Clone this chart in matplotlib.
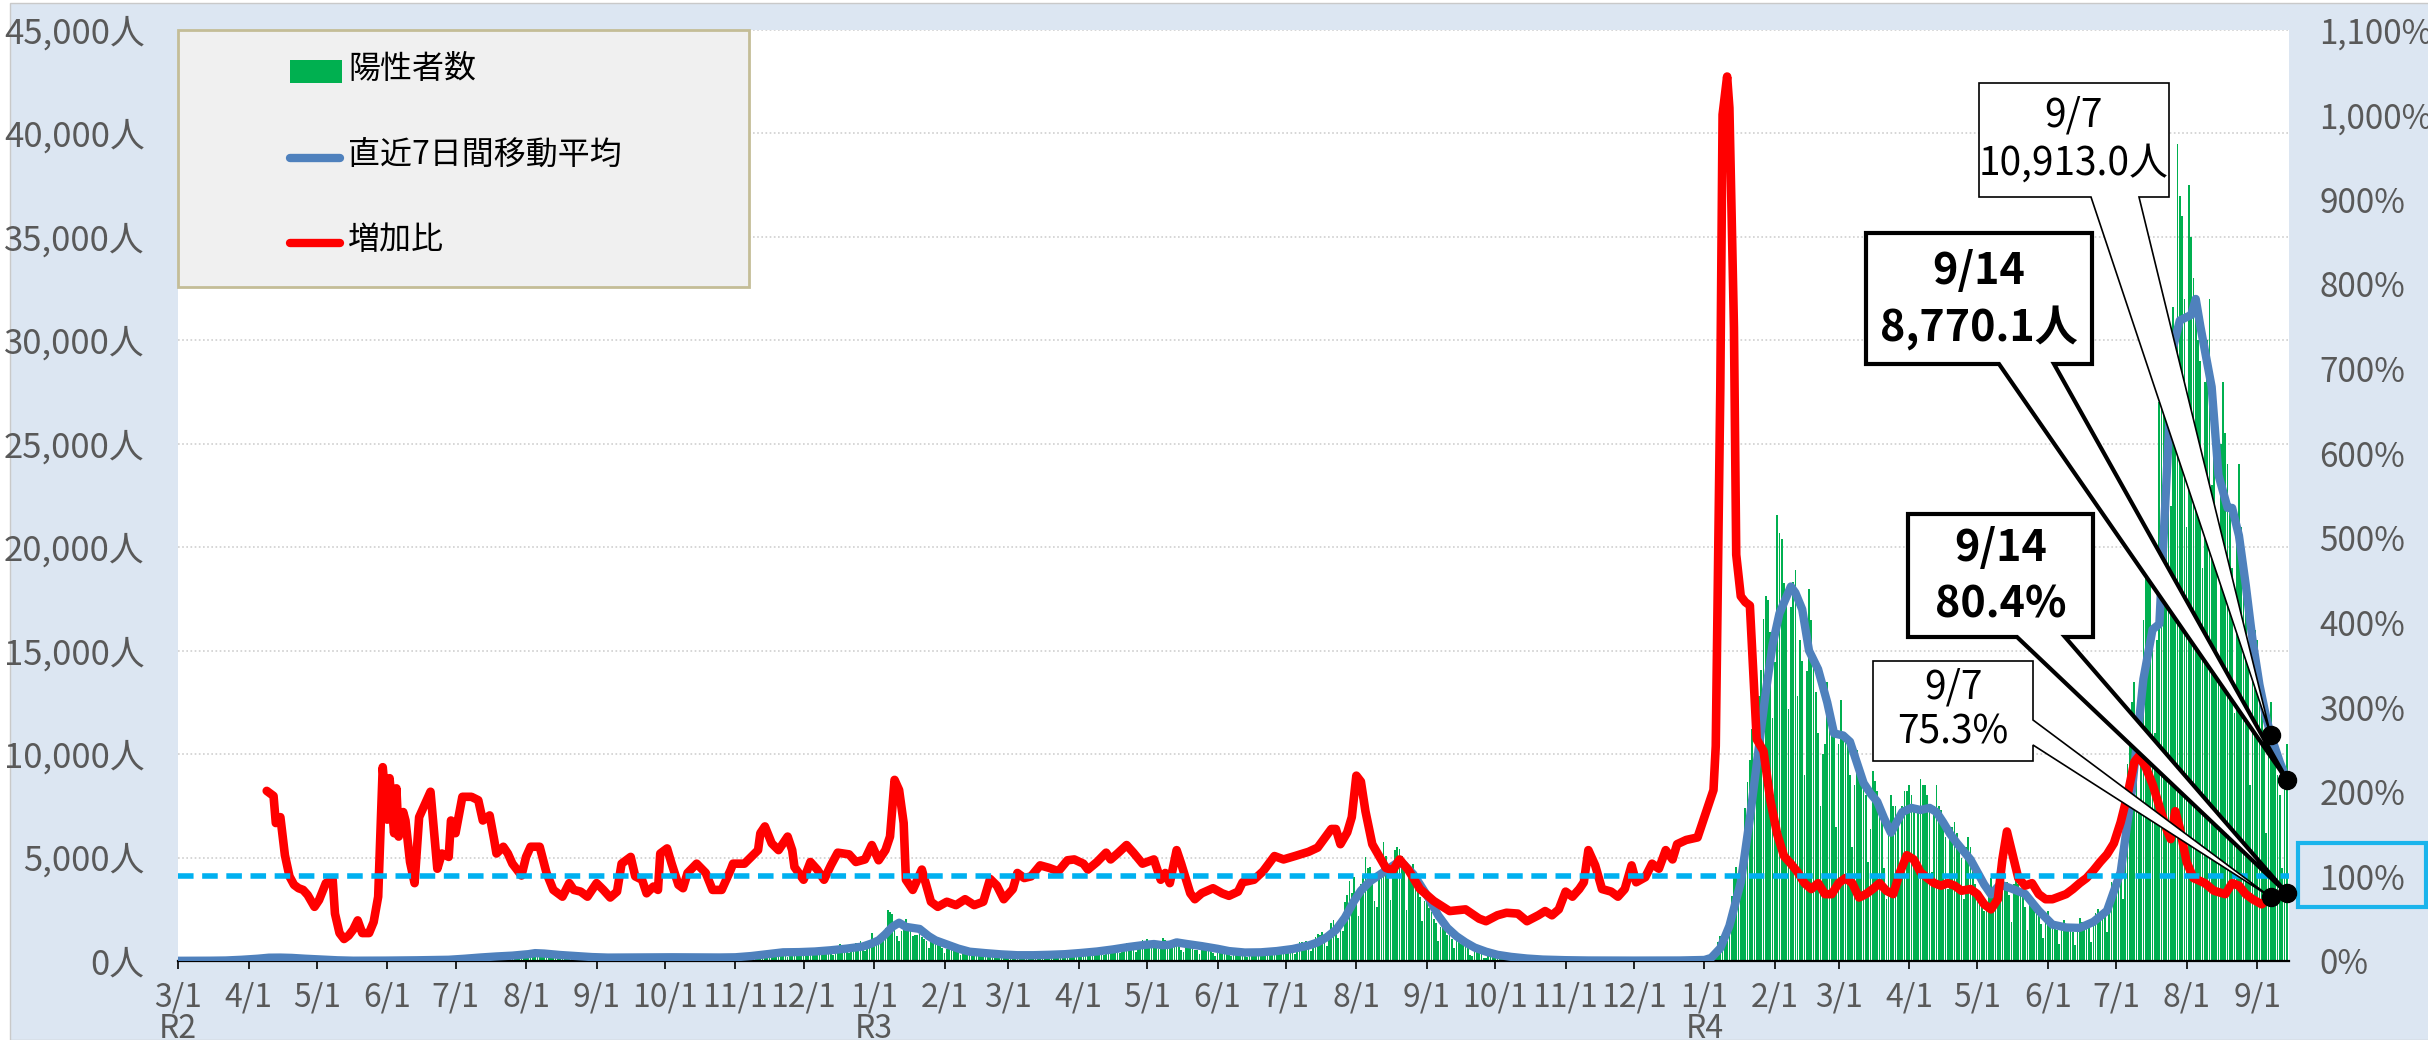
import matplotlib
matplotlib.use("Agg")
import matplotlib.pyplot as plt
import numpy as np
import pandas as pd
from matplotlib.patches import Polygon, Rectangle
from matplotlib.lines import Line2D
from matplotlib.transforms import IdentityTransform

plt.rcParams['font.family'] = ['Liberation Sans Narrow', 'Noto Sans CJK JP', 'DejaVu Sans']

START = pd.Timestamp('2020-03-01')

# daily positives, one row per week (Sun..Sat), first row starts 2020-03-01
cases_by_week = [
    [1, 0, 2, 3, 6, 4, 3], [2, 3, 4, 3, 1, 5, 2], [2, 3, 3, 2, 11, 5, 7],
    [16, 17, 16, 41, 47, 40, 63], [68, 13, 78, 66, 97, 89, 118],
    [143, 83, 80, 144, 178, 189, 197], [166, 91, 161, 127, 149, 206, 181],
    [107, 102, 123, 132, 134, 161, 103], [72, 39, 112, 47, 46, 165, 160],
    [91, 87, 58, 57, 23, 39, 36], [22, 15, 28, 10, 30, 9, 14], [5, 10, 5, 5, 3, 3, 2],
    [14, 8, 10, 11, 15, 22, 14], [5, 13, 34, 12, 28, 20, 26], [14, 13, 12, 18, 22, 25, 24],
    [47, 48, 27, 16, 41, 35, 39], [35, 29, 31, 55, 48, 54, 57], [60, 58, 54, 67, 107, 124, 131],
    [111, 102, 75, 224, 243, 206, 206], [206, 119, 143, 165, 286, 293, 290],
    [188, 168, 237, 238, 366, 260, 295], [239, 131, 266, 250, 367, 463, 472],
    [292, 258, 309, 263, 360, 462, 429], [331, 197, 188, 222, 206, 389, 385],
    [260, 161, 207, 186, 339, 258, 247], [212, 95, 182, 236, 250, 226, 148],
    [148, 100, 170, 141, 141, 211, 181], [148, 77, 170, 149, 276, 187, 181],
    [146, 78, 163, 191, 220, 218, 228], [162, 88, 98, 59, 195, 235, 270],
    [144, 78, 212, 194, 220, 196, 207], [143, 102, 177, 172, 186, 235, 180],
    [146, 78, 166, 177, 284, 185, 235], [132, 78, 139, 150, 185, 186, 203],
    [124, 102, 158, 171, 221, 215, 209], [116, 87, 209, 122, 242, 269, 294],
    [189, 157, 293, 317, 393, 374, 352], [255, 180, 298, 493, 534, 522, 539],
    [391, 314, 186, 401, 481, 570, 561], [418, 311, 372, 500, 533, 449, 584],
    [480, 299, 352, 572, 602, 595, 621], [480, 305, 460, 678, 822, 664, 736],
    [556, 392, 563, 748, 888, 884, 949], [708, 481, 856, 944, 1337, 783, 814],
    [816, 884, 1278, 1591, 2447, 2392, 2268], [1494, 1219, 970, 1433, 1502, 2044, 1809],
    [1592, 1204, 1240, 1274, 1471, 1175, 1070], [986, 618, 1026, 973, 1064, 868, 769],
    [633, 393, 556, 676, 734, 577, 639], [429, 276, 412, 434, 434, 307, 369],
    [371, 266, 378, 378, 445, 353, 327], [272, 178, 275, 213, 340, 270, 337],
    [329, 121, 232, 316, 279, 301, 293], [237, 116, 290, 340, 335, 304, 330],
    [239, 175, 300, 409, 323, 303, 342], [256, 187, 337, 420, 394, 376, 430],
    [313, 234, 364, 414, 475, 446, 440], [355, 249, 399, 555, 545, 537, 570],
    [421, 306, 510, 591, 729, 667, 759], [543, 405, 711, 843, 861, 759, 876],
    [635, 425, 828, 925, 1027, 698, 1050], [879, 708, 609, 621, 591, 907, 1121],
    [1032, 573, 925, 969, 1010, 854, 772], [542, 419, 732, 766, 843, 618, 539],
    [535, 340, 743, 597, 684, 614, 620], [380, 260, 471, 487, 508, 472, 436],
    [351, 235, 369, 440, 439, 435, 467], [304, 209, 337, 501, 452, 388, 388],
    [376, 236, 435, 619, 570, 562, 534], [386, 317, 476, 714, 673, 660, 716],
    [518, 342, 593, 920, 896, 822, 950], [614, 502, 830, 1149, 1308, 1271, 1410],
    [1008, 727, 1387, 1832, 1979, 1359, 1128], [1763, 1429, 2848, 3177, 3865, 3300, 4058],
    [3058, 2195, 3709, 4166, 5042, 4515, 4566], [4066, 2884, 2612, 4200, 4989, 5773, 5094],
    [4295, 2962, 4377, 5386, 5534, 5405, 5074], [4392, 2447, 4220, 4228, 4704, 3581, 3581],
    [3081, 1915, 2909, 3168, 2539, 2362, 2011], [1853, 968, 1629, 1834, 1675, 1242, 1273],
    [1067, 611, 1004, 1052, 831, 782, 862], [616, 302, 253, 537, 531, 382, 382],
    [154, 154, 248, 267, 218, 200, 196], [161, 87, 149, 144, 138, 82, 66],
    [60, 49, 77, 72, 62, 72, 66], [40, 29, 36, 41, 36, 26, 32], [19, 17, 29, 36, 21, 21, 23],
    [22, 9, 18, 29, 20, 17, 28], [21, 18, 19, 16, 25, 24, 26], [23, 6, 30, 24, 19, 26, 21],
    [13, 11, 24, 6, 23, 18, 26], [18, 9, 8, 16, 15, 20, 16], [15, 8, 11, 21, 20, 19, 25],
    [18, 8, 23, 28, 22, 26, 20], [16, 10, 34, 37, 41, 38, 51], [37, 31, 46, 76, 64, 78, 79],
    [84, 103, 151, 390, 641, 922, 1224], [1223, 871, 962, 2198, 3124, 4051, 4561],
    [4172, 3719, 5185, 7377, 8638, 9699, 11227], [9468, 8503, 12813, 14086, 16538, 17631, 17433],
    [15895, 11751, 14445, 21576, 20679, 20401, 18287], [17500, 12200, 17100, 18300, 18900, 12800, 15500],
    [14500, 9000, 14000, 18000, 16500, 14800, 13000], [11000, 7500, 10000, 10500, 13500, 12600, 11000],
    [11000, 6500, 10500, 12600, 11000, 10800, 10500], [9000, 5500, 8500, 10200, 9000, 9000, 8700],
    [8000, 4800, 6400, 9200, 8700, 8200, 7500], [7000, 4500, 3000, 6500, 8000, 7500, 7500],
    [7000, 4300, 7500, 8200, 8200, 8500, 8000], [7500, 4500, 7500, 8800, 8500, 8500, 8000],
    [7200, 4300, 7500, 8500, 7500, 7300, 6500], [6000, 3500, 6500, 6500, 6700, 6200, 5800],
    [5000, 3000, 5500, 6000, 5500, 5000, 3700], [3500, 3000, 2800, 2400, 2600, 3600, 4000],
    [3300, 2500, 4500, 5000, 4000, 3800, 3800], [3200, 1900, 3700, 4000, 3700, 3400, 3200],
    [2600, 1500, 3000, 3000, 2900, 2500, 2400], [1800, 1100, 2000, 2400, 2100, 1900, 1700],
    [1500, 800, 1800, 2000, 1800, 1700, 1600], [1400, 780, 1600, 2100, 1900, 1800, 1700],
    [1600, 900, 2000, 2300, 2500, 2300, 2400], [2300, 1400, 3000, 3800, 3500, 3600, 3600],
    [4000, 3000, 6500, 9500, 11000, 12500, 13500], [12000, 7500, 13500, 16500, 18500, 20000, 19000],
    [16000, 11000, 15500, 27000, 30000, 31000, 31500], [30000, 22000, 31600, 29000, 39500, 37000, 36000],
    [32000, 21000, 37500, 35000, 33000, 31500, 30000], [29000, 19000, 28000, 30000, 32000, 23000, 25000],
    [21000, 14000, 25000, 28000, 25500, 24000, 22000], [19000, 12000, 21500, 24000, 21000, 20000, 18000],
    [14500, 8500, 15000, 16000, 15500, 13500, 12500], [11000, 6200, 11500, 12500, 11000, 9500, 9000],
    [8000, 4500, 9000, 10500],
]

# 7-day moving average (day = days since 2020-03-01)
avg_day = [0, 7, 14, 21, 28, 35, 40, 45, 50, 56, 63, 70, 77, 84, 91, 98, 105, 112, 119, 126,
           133, 140, 147, 154, 157, 161, 168, 175, 182, 189, 196, 203, 210, 217, 224, 231, 238,
           245, 252, 259, 266, 273, 280, 287, 294, 301, 305, 308, 311, 314, 317, 320, 326, 330,
           333, 338, 343, 348, 355, 362, 369, 376, 383, 390, 397, 404, 411, 418, 425, 429, 433,
           436, 439, 443, 450, 457, 462, 469, 476, 483, 490, 497, 501, 505, 509, 513, 517, 520,
           524, 528, 532, 536, 539, 543, 546, 550, 554, 558, 562, 566, 570, 575, 580, 586, 593,
           600, 610, 620, 640, 660, 671, 674, 678, 682, 687, 691, 695, 698, 701, 704, 709, 711,
           714, 717, 721, 725, 728, 732, 735, 738, 741, 744, 747, 750, 753, 755, 758, 762, 766,
           770, 773, 776, 779, 782, 785, 788, 791, 794, 797, 801, 806, 812, 818, 824, 830, 836,
           842, 848, 854, 859, 864, 868, 871, 874, 877, 880, 885, 887, 889, 894, 897, 901, 903,
           906, 909, 912, 915, 918, 920, 924, 927]
avg_val = [10, 10, 15, 25, 60, 110, 160, 165, 150, 110, 75, 35, 15, 15, 20, 25, 35, 45, 60, 110,
           170, 220, 260, 330, 380, 360, 290, 240, 190, 165, 170, 180, 175, 180, 175, 170, 170,
           180, 240, 330, 420, 430, 460, 520, 600, 700, 850, 1000, 1300, 1650, 1850, 1650, 1550, 1200,
           1000, 800, 600, 450, 380, 320, 280, 280, 300, 330, 390, 460, 560, 680, 780, 820, 760,
           790, 900, 830, 720, 590, 480, 410, 420, 480, 580, 750, 900, 1150, 1500, 2100, 2900, 3400,
           3850, 4150, 4450, 4750, 4650, 4200, 3700, 3000, 2200, 1600, 1200, 900, 650, 450, 300, 200, 120,
           70, 40, 25, 20, 25, 50, 150, 620, 1700, 3800, 6900, 10400, 13000, 15300, 16800, 18100, 17800,
           17000, 15000, 14100, 12500, 11000, 10900, 10600, 9600, 8600, 8100, 7700, 6900, 6200, 6600, 7200, 7400, 7300,
           7400, 7200, 6700, 6150, 5700, 5300, 4900, 4300, 3700, 3220, 3700, 3500, 3240, 2430, 1760, 1620, 1600,
           1890, 2430, 4300, 8290, 13630, 16020, 16290, 22960, 29630, 30960, 31230, 32000, 30700, 27750, 23490, 21900, 21900,
           20560, 18170, 15490, 13360, 11760, 10913.0, 9600, 8770.1]

# week-on-week increase ratio (%)
ratio_day = [39, 42, 43, 45, 47, 49, 51, 53, 55, 57, 60, 62, 65, 68, 69, 71, 73, 75, 77, 79, 81, 84,
             86, 88, 90, 92, 93, 95, 96, 97, 99, 100, 102, 104, 106, 108, 111, 114, 116, 119, 120,
             122, 125, 129, 132, 134, 137, 139, 140, 143, 145, 147, 151, 153, 155, 159, 162, 165,
             169, 172, 174, 177, 180, 184, 187, 190, 193, 195, 199, 201, 204, 206, 209, 211, 212,
             215, 217, 220, 222, 224, 228, 232, 235, 239, 243, 244, 249, 252, 255, 256, 258, 261,
             264, 266, 268, 270, 271, 275, 278, 281, 284, 287, 290, 295, 298, 302, 305, 308, 311,
             313, 315, 317, 319, 320, 323, 327, 331, 334, 338, 342, 346, 350, 354, 357, 360, 363,
             367, 369, 372, 375, 379, 383, 387, 391, 394, 398, 400, 404, 408, 410, 413, 417, 420,
             424, 429, 432, 434, 436, 439, 441, 445, 447, 450, 455, 459, 462, 466, 468, 473, 477,
             482, 486, 491, 497, 501, 504, 507, 509, 511, 514, 516, 518, 520, 522, 525, 528, 531,
             534, 537, 541, 546, 552, 559, 566, 572, 575, 580, 584, 589, 593, 598, 601, 604, 607,
             610, 613, 616, 618, 620, 623, 626, 630, 633, 636, 639, 641, 645, 648, 651, 654, 657,
             659, 663, 668, 671, 675, 676, 678, 679, 681, 682, 684, 685, 687, 689, 691, 694, 697,
             700, 703, 706, 709, 712, 715, 718, 721, 724, 727, 730, 733, 736, 739, 742, 745, 748,
             751, 754, 757, 760, 763, 766, 769, 772, 775, 778, 781, 784, 788, 791, 794, 797, 800,
             802, 804, 806, 809, 812, 815, 818, 821, 824, 827, 830, 833, 836, 839, 842, 845, 848,
             851, 854, 857, 860, 862, 865, 868, 871, 874, 876, 878, 880, 883, 886, 891, 895, 900,
             903, 906, 909, 912, 916, 920, 924, 927]
ratio_val = [201, 195, 163, 170, 125, 100, 90, 86, 84, 78, 64, 72, 92, 96, 56, 33, 26, 30, 37, 48, 33, 33,
             46, 76, 229, 167, 216, 151, 204, 147, 176, 166, 117, 92, 170, 182, 200, 109, 127, 123, 166,
             151, 194, 194, 190, 166, 172, 143, 127, 135, 127, 115, 101, 123, 135, 135, 104, 84,
             76, 92, 84, 82, 76, 92, 84, 75, 82, 115, 123, 100, 96, 80, 88, 84, 127,
             133, 115, 90, 86, 104, 115, 104, 84, 84, 108, 115, 115, 123, 131, 151, 159, 139,
             131, 139, 147, 131, 111, 96, 117, 108, 96, 113, 128, 126, 117, 120, 137, 119, 131,
             147, 214, 202, 163, 96, 84, 108, 70, 64, 70, 66, 73, 66, 70, 97, 89, 73,
             85, 104, 98, 100, 113, 110, 106, 119, 120, 115, 108, 117, 128, 120, 127, 137, 128,
             115, 120, 96, 104, 92, 131, 115, 80, 73, 80, 86, 80, 77, 82, 93, 96, 106,
             124, 120, 124, 129, 134, 145, 156, 156, 138, 152, 170, 219, 212, 177, 138, 124, 110,
             107, 120, 107, 85, 71, 59, 61, 50, 47, 54, 57, 56, 47, 54, 59, 54, 61,
             82, 76, 85, 93, 131, 113, 85, 82, 76, 85, 113, 93, 99, 115, 109, 131, 120,
             138, 143, 146, 170, 202, 254, 677, 1000, 1045, 1008, 748, 480, 431, 424, 420, 262, 248,
             190, 150, 124, 115, 105, 92, 85, 92, 79, 79, 92, 98, 92, 75, 79, 85, 92,
             83, 79, 105, 125, 120, 105, 98, 92, 89, 92, 89, 83, 85, 79, 67, 61, 73,
             120, 153, 131, 98, 89, 92, 79, 73, 73, 76, 79, 85, 92, 98, 107, 117, 126,
             139, 164, 196, 235, 242, 229, 209, 183, 157, 144, 177, 157, 117, 98, 92, 83, 79,
             92, 89, 79, 73, 67, 75.3, 78, 80.4]

era_labels = {'2020-03-01': 'R2', '2021-01-01': 'R3', '2022-01-01': 'R4'}

cases = np.concatenate([np.array(w, dtype=float) for w in cases_by_week])
days = np.arange(len(cases))

W, H = 2428, 1040
fig = plt.figure(figsize=(W / 100, H / 100), dpi=100)
fig.patch.set_facecolor('white')
fig.add_artist(Rectangle((10 / W, 0), 1, 1 - 3 / H, transform=fig.transFigure,
                         facecolor='#dce6f2', edgecolor='#c9c9c9', lw=1.0, zorder=-10))

ax = fig.add_axes([178 / W, 1 - 961 / H, (2289 - 178) / W, (961 - 30) / H])
ax.set_facecolor('white')
ax2 = ax.twinx()

# bars + moving average on the left axis
ax.bar(days, cases, width=0.75, color='#00b050', linewidth=0, zorder=2)
ax.plot(avg_day, avg_val, color='#4f81bd', lw=6, solid_joinstyle='round',
        solid_capstyle='round', zorder=3)
ax.set_xlim(0, 928)
ax.set_ylim(0, 45000)
ax.set_yticks(np.arange(0, 45001, 5000))
ax.set_yticklabels([f'{v:,}人' for v in range(0, 45001, 5000)])
ax.yaxis.grid(True, linestyle=(0, (1, 1.5)), color='#cfcfcf', lw=1.2)
ax.set_axisbelow(True)

months = pd.date_range('2020-03-01', '2022-09-01', freq='MS')
tick_days = (months - START).days
tick_labels = []
for m in months:
    lab = f'{m.month}/1'
    key = m.strftime('%Y-%m-%d')
    if key in era_labels:
        lab += '\n' + era_labels[key]
    tick_labels.append(lab)
ax.set_xticks(tick_days)
ax.set_xticklabels(tick_labels, linespacing=0.95)
ax.tick_params(axis='x', direction='out', length=6, width=1.2, color='black',
               labelsize=23, labelcolor='#595959', pad=9)
ax.tick_params(axis='y', length=0, labelsize=25, labelcolor='#595959', pad=24)

for sp in ['top', 'left', 'right']:
    ax.spines[sp].set_visible(False)
    ax2.spines[sp].set_visible(False)
ax.spines['bottom'].set_color('black')
ax.spines['bottom'].set_linewidth(1.6)
ax2.spines['bottom'].set_visible(False)

# increase ratio on the right axis
ax2.plot(ratio_day, ratio_val, color='#ff0000', lw=6.2, solid_joinstyle='round',
         solid_capstyle='round', zorder=4)
ax2.axhline(100, color='#00b0f0', lw=4, dashes=(2.8, 1.55), zorder=5)
ax2.set_ylim(0, 1100)
ax2.set_yticks(np.arange(0, 1101, 100))
ax2.set_yticklabels([f'{v:,}%' for v in range(0, 1101, 100)])
ax2.tick_params(axis='y', length=0, labelsize=24, labelcolor='#595959', pad=22)

# box round the 100% label
fig.add_artist(Rectangle((2298 / W, 1 - 907 / H), 128 / W, 64 / H, transform=fig.transFigure,
                         facecolor='none', edgecolor='#1ab4ec', lw=3, zorder=6))

# legend box
def frect(x0, y0, x1, y1, **kw):
    return Rectangle((x0 / W, 1 - y1 / H), (x1 - x0) / W, (y1 - y0) / H,
                     transform=fig.transFigure, **kw)

fig.add_artist(frect(178, 30, 749, 287, facecolor='#f0f0f0', edgecolor='#c4bd97', lw=2, zorder=7))
fig.add_artist(frect(290, 60, 342, 83, facecolor='#00b050', edgecolor='none', zorder=8))
for yy, col in [(158, '#4f81bd'), (243, '#ff0000')]:
    fig.add_artist(Line2D([290 / W, 340 / W], [1 - yy / H, 1 - yy / H], transform=fig.transFigure,
                          color=col, lw=6, solid_capstyle='round', zorder=8))
for yy, txt in [(69, '陽性者数'), (155, '直近7日間移動平均'), (240, '増加比')]:
    fig.text(348 / W, 1 - yy / H, txt, fontsize=23, va='center', ha='left',
             family=['Noto Sans CJK JP', 'DejaVu Sans'], zorder=9)

# call-outs
def tip_of(axis, day, val):
    return axis.transData.transform((day, val))

def add_callout(box, base, side, tip, lines, bold):
    x0, y0, x1, y1 = box
    b0, b1 = base
    if side == 'bottom':
        verts = [(x0, y0), (x1, y0), (x1, y1), (b1, y1), 'tip', (b0, y1), (x0, y1)]
    else:
        verts = [(x0, y0), (x1, y0), (x1, b0), 'tip', (x1, b1), (x1, y1), (x0, y1)]
    pts = [tuple(tip) if v == 'tip' else (v[0], H - v[1]) for v in verts]
    fig.add_artist(Polygon(pts, closed=True, transform=IdentityTransform(),
                           facecolor='white', edgecolor='black',
                           lw=3.0 if bold else 1.2, joinstyle='miter', zorder=10))
    cx = (x0 + x1) / 2
    for (yy, txt) in lines:
        fig.text(cx / W, 1 - yy / H, txt, fontsize=31 if bold else 28, ha='center', va='center',
                 fontweight='bold' if bold else 'normal', zorder=11)
    fig.add_artist(Line2D([tip[0]], [tip[1]], transform=IdentityTransform(), marker='o',
                          markersize=13, color='black', zorder=12))

d_prev = (pd.Timestamp('2022-09-07') - START).days
d_last = (pd.Timestamp('2022-09-14') - START).days
avg_prev = avg_val[avg_day.index(d_prev)]
avg_last = avg_val[avg_day.index(d_last)]
ratio_prev = ratio_val[ratio_day.index(d_prev)]
ratio_last = ratio_val[ratio_day.index(d_last)]

fig.canvas.draw()
add_callout((1979, 83, 2169, 197), (2091, 2139), 'bottom', tip_of(ax, d_prev, avg_prev),
            [(116, '9/7'), (164, f'{avg_prev:,.1f}人')], False)
add_callout((1866, 233, 2092, 364), (1999, 2054), 'bottom', tip_of(ax, d_last, avg_last),
            [(271, '9/14'), (328, f'{avg_last:,.1f}人')], True)
add_callout((1908, 514, 2093, 637), (2017, 2065), 'bottom', tip_of(ax2, d_last, ratio_last),
            [(548, '9/14'), (604, f'{ratio_last:.1f}%')], True)
add_callout((1873, 661, 2033, 761), (720, 745), 'right', tip_of(ax2, d_prev, ratio_prev),
            [(688, '9/7'), (733, f'{ratio_prev:.1f}%')], False)

fig.savefig('out.png', dpi=100, facecolor=fig.get_facecolor())
